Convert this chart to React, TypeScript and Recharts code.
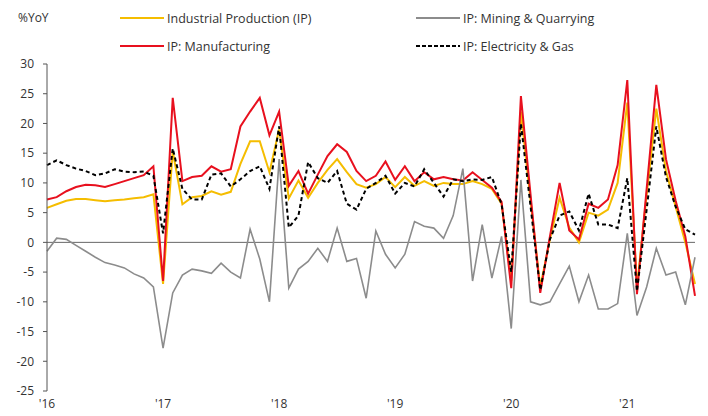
import React from 'react';
import { LineChart, Line, XAxis, YAxis, ReferenceLine } from 'recharts';

// Monthly year-on-year growth, Jan 2016 – Aug 2021
const industrialProduction = [
  5.8, 6.4, 7.0, 7.3, 7.3, 7.1, 6.9, 7.1, 7.2, 7.4, 7.6, 8.1,
  -7.0, 15.3, 6.4, 7.6, 7.8, 8.6, 8.0, 8.5, 13.2, 17.0, 17.0, 11.8,
  19.0, 7.4, 10.4, 7.5, 10.0, 12.2, 14.0, 11.8, 9.8, 9.2, 9.8, 11.0,
  9.3, 11.0, 9.5, 10.3, 9.5, 10.0, 9.8, 9.8, 10.3, 9.8, 9.0, 6.5,
  -6.5, 22.0, 7.0, -7.5, 0.5, 7.5, 2.5, 0.0, 5.0, 4.5, 5.5, 10.0,
  23.5, -7.5, 8.0, 22.5, 12.0, 6.0, 0.0, -7.0,
];

const manufacturing = [
  7.2, 7.6, 8.6, 9.3, 9.7, 9.6, 9.3, 9.8, 10.3, 10.8, 11.3, 12.8,
  -6.5, 24.3, 10.3, 11.0, 11.2, 12.8, 11.9, 12.3, 19.5, 22.0, 24.3, 18.0,
  22.0, 9.5, 12.0, 8.2, 11.4, 14.5, 16.5, 15.2, 12.0, 10.3, 11.2, 13.6,
  10.5, 12.8, 10.3, 11.8, 10.6, 11.0, 10.6, 10.4, 11.8, 10.5, 9.2, 6.8,
  -7.7, 24.6, 8.0, -8.5, 1.0, 10.0, 2.0, 0.5, 6.5, 5.8, 7.2, 13.0,
  27.3, -8.7, 9.0, 26.5, 14.0, 7.0, 1.0, -9.0,
];

const mining = [
  -1.5, 0.7, 0.5, -0.5, -1.5, -2.5, -3.4, -3.8, -4.3, -5.3, -6.0, -7.5,
  -17.8, -8.5, -5.5, -4.5, -4.8, -5.2, -3.5, -5.0, -6.0, 2.2, -2.8, -10.0,
  14.0, -7.7, -4.5, -3.2, -1.0, -3.2, 2.4, -3.2, -2.7, -9.4, 1.9, -2.0,
  -4.3, -2.0, 3.5, 2.7, 2.4, 0.7, 4.5, 12.4, -6.5, 3.0, -6.0, 1.0,
  -14.5, 10.5, -10.0, -10.5, -10.0, -7.0, -4.0, -10.0, -5.5, -11.2, -11.2, -10.3,
  1.5, -12.3, -7.5, -1.0, -5.5, -5.0, -10.5, -2.5,
];

const electricityGas = [
  13.0, 13.8, 13.0, 12.4, 12.0, 11.3, 11.6, 12.3, 11.9, 11.8, 11.9, 11.2,
  1.5, 15.8, 9.0, 7.2, 7.2, 11.4, 11.6, 9.4, 10.6, 12.0, 12.8, 9.0,
  19.5, 2.5, 4.5, 13.5, 10.8, 10.0, 12.0, 6.5, 5.5, 9.0, 10.0, 11.2,
  8.2, 10.0, 9.4, 12.3, 10.0, 7.7, 10.6, 10.3, 10.6, 10.5, 11.0, 6.4,
  -5.0, 20.0, 6.0, -8.0, 0.5, 4.5, 5.2, 2.0, 8.2, 3.0, 3.0, 2.4,
  10.8, -8.2, 5.5, 19.5, 11.0, 6.0, 2.2, 1.3,
];

const yearLabels = ["'16", "'17", "'18", "'19", "'20", "'21"];
const yTicks = [-25, -20, -15, -10, -5, 0, 5, 10, 15, 20, 25, 30];

const COLORS = {
  ip: '#f5bd00',
  mfg: '#e8101e',
  mining: '#8c8c8c',
  elec: '#000000',
};

const FONT = '"Open Sans", "DejaVu Sans", sans-serif';

const data = industrialProduction.map((ip, i) => ({
  i,
  ip,
  mfg: manufacturing[i],
  mining: mining[i],
  elec: electricityGas[i],
}));

const xTicks = yearLabels.map((_, k) => k * 12);

function LegendItem({ color, dashed, label }: { color: string; dashed?: boolean; label: string }) {
  return (
    <div style={{ display: 'flex', alignItems: 'center', height: 28 }}>
      <svg width={44} height={6} style={{ marginRight: 3 }}>
        <line
          x1={0}
          y1={3}
          x2={44}
          y2={3}
          stroke={color}
          strokeWidth={2}
          strokeDasharray={dashed ? '4 2' : undefined}
        />
      </svg>
      <span>{label}</span>
    </div>
  );
}

export default function App() {
  return (
    <div
      style={{
        position: 'relative',
        width: 708,
        height: 416,
        margin: -8,
        background: '#fff',
        fontFamily: FONT,
        color: '#333',
      }}
    >
      <div style={{ position: 'absolute', left: 18, top: 9, fontSize: 12 }}>%YoY</div>

      <div
        style={{
          position: 'absolute',
          left: 120,
          top: 4,
          display: 'grid',
          gridTemplateColumns: '296px 260px',
          fontSize: 12.5,
        }}
      >
        <LegendItem color={COLORS.ip} label="Industrial Production (IP)" />
        <LegendItem color={COLORS.mining} label="IP: Mining & Quarrying" />
        <LegendItem color={COLORS.mfg} label="IP: Manufacturing" />
        <LegendItem color={COLORS.elec} dashed label="IP: Electricity & Gas" />
      </div>

      <LineChart
        width={708}
        height={416}
        data={data}
        margin={{ top: 64, right: 13, bottom: 5, left: 7 }}
      >
        <XAxis
          dataKey="i"
          type="number"
          domain={[0, 67]}
          ticks={xTicks}
          tickFormatter={(v: number) => yearLabels[v / 12]}
          axisLine={false}
          tickLine={false}
          tickSize={4}
          tickMargin={4}
          height={20}
          tick={{ fill: '#333', fontSize: 12, fontFamily: FONT }}
        />
        <YAxis
          type="number"
          domain={[-25, 30]}
          ticks={yTicks}
          interval={0}
          width={40}
          tickSize={4}
          tickMargin={9}
          axisLine={{ stroke: '#555' }}
          tickLine={{ stroke: '#555' }}
          tick={{ fill: '#333', fontSize: 12, fontFamily: FONT }}
        />
        <ReferenceLine y={0} stroke="#666" strokeWidth={1} />
        <Line
          dataKey="ip"
          stroke={COLORS.ip}
          strokeWidth={2}
          dot={false}
          isAnimationActive={false}
        />
        <Line
          dataKey="mfg"
          stroke={COLORS.mfg}
          strokeWidth={2}
          dot={false}
          isAnimationActive={false}
        />
        <Line
          dataKey="mining"
          stroke={COLORS.mining}
          strokeWidth={1.6}
          dot={false}
          isAnimationActive={false}
        />
        <Line
          dataKey="elec"
          stroke={COLORS.elec}
          strokeWidth={2}
          strokeDasharray="4 3"
          dot={false}
          isAnimationActive={false}
        />
      </LineChart>
    </div>
  );
}
